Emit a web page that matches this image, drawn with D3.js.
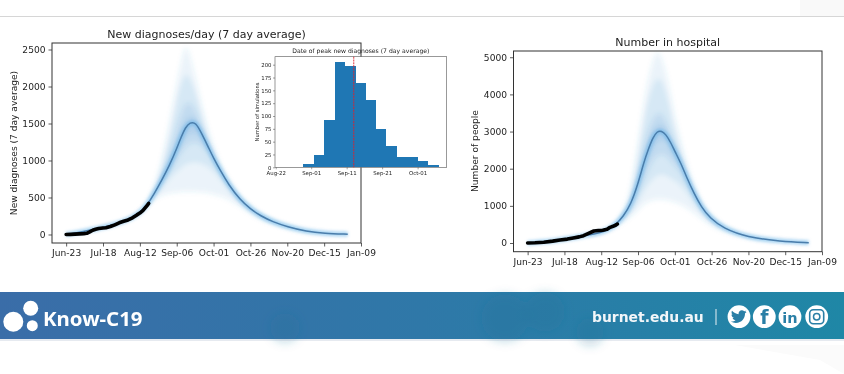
<!DOCTYPE html>
<html>
<head>
<meta charset="utf-8">
<script src="https://cdn.jsdelivr.net/npm/d3@7"></script>
<style>
  html, body { margin: 0; padding: 0; background: #fff; overflow: hidden; }
  svg { display: block; filter: blur(0.35px); }
  text { font-family: "DejaVu Sans", sans-serif; fill: #222; }
</style>
</head>
<body>
<div id="chart"></div>
<script>
// tick labels, days counted from Jun-23
const tickDays = [0, 25, 50, 75, 100, 125, 150, 175, 200];
const tickLabels = ['Jun-23', 'Jul-18', 'Aug-12', 'Sep-06', 'Oct-01', 'Oct-26', 'Nov-20', 'Dec-15', 'Jan-09'];

// new diagnoses chart
const diagObsDays = [0, 3, 6, 9, 12, 14, 16, 18, 20, 22, 25, 27, 30, 33, 36, 39, 42, 45, 48, 50, 52, 54, 55, 56];
const diagObs = [0, 2, 5, 8, 12, 16, 35, 57, 70, 80, 88, 92, 108, 130, 158, 178, 196, 225, 265, 290, 322, 370, 395, 420];
const diagDays = [0, 20, 40, 50, 55, 60, 65, 70, 75, 78, 81, 84, 88, 92, 96, 100, 105, 110, 118, 125, 132, 140, 150, 163, 175, 191];
const diagMedian = [0, 70, 170, 290, 400, 560, 740, 930, 1160, 1320, 1450, 1515, 1515, 1360, 1200, 1030, 850, 680, 466, 345, 250, 173, 105, 42, 16, 3];
const diagU1 = [0, 70, 170, 295, 430, 650, 1000, 1500, 2050, 2320, 2600, 2420, 2100, 1750, 1420, 1180, 930, 730, 520, 380, 280, 195, 120, 50, 22, 5];
const diagU2 = [0, 70, 170, 293, 410, 620, 900, 1300, 1800, 2050, 2180, 2120, 1900, 1620, 1340, 1120, 900, 710, 500, 368, 268, 185, 115, 47, 20, 4];
const diagU3 = [0, 70, 170, 292, 405, 590, 810, 1100, 1450, 1650, 1780, 1790, 1680, 1450, 1250, 1070, 880, 698, 488, 358, 260, 180, 110, 45, 18, 4];
const diagU4 = [0, 70, 170, 291, 402, 572, 770, 985, 1235, 1415, 1550, 1600, 1580, 1410, 1230, 1050, 865, 690, 478, 352, 256, 177, 108, 44, 17, 3];
const diagL4 = [0, 70, 170, 289, 398, 548, 710, 880, 1080, 1220, 1320, 1370, 1390, 1280, 1160, 1005, 830, 668, 452, 335, 242, 167, 101, 40, 15, 3];
const diagL3 = [0, 70, 170, 288, 395, 530, 680, 830, 1000, 1100, 1180, 1230, 1250, 1200, 1100, 970, 810, 650, 440, 325, 235, 162, 98, 38, 14, 3];
const diagL2 = [0, 70, 170, 287, 390, 510, 620, 750, 850, 900, 950, 970, 980, 960, 920, 850, 740, 600, 415, 310, 225, 152, 92, 34, 13, 2];
const diagL1 = [0, 70, 170, 286, 385, 480, 530, 560, 570, 580, 580, 580, 580, 575, 565, 545, 520, 480, 380, 285, 200, 140, 85, 30, 12, 2];
const diagTicks = [0, 500, 1000, 1500, 2000, 2500];

// number in hospital chart
const hospObsDays = [0, 5, 11, 17, 22, 27, 31, 35, 38, 41, 45, 48, 51, 54, 56, 58, 60, 61];
const hospObs = [0, 5, 20, 50, 80, 105, 135, 165, 197, 250, 323, 335, 345, 368, 422, 450, 485, 510];
const hospDays = [0, 20, 40, 50, 55, 60, 65, 70, 75, 79, 82, 85, 88, 91, 94, 97, 100, 104, 108, 113, 118, 124, 133, 149, 172, 191];
const hospMedian = [0, 60, 210, 280, 370, 500, 720, 1030, 1590, 2180, 2520, 2830, 3010, 3020, 2920, 2720, 2470, 2160, 1770, 1340, 970, 665, 395, 155, 45, 8];
const hospU1 = [0, 60, 210, 285, 380, 540, 830, 1350, 2700, 3800, 4450, 4900, 5200, 5000, 4600, 4050, 3400, 2750, 2130, 1560, 1100, 760, 440, 175, 50, 10];
const hospU2 = [0, 60, 210, 284, 375, 525, 790, 1220, 2300, 3300, 3850, 4250, 4450, 4400, 4050, 3550, 3000, 2520, 1990, 1480, 1050, 730, 425, 168, 48, 9];
const hospU3 = [0, 60, 210, 283, 372, 515, 755, 1080, 1850, 2650, 3050, 3350, 3500, 3500, 3300, 2950, 2650, 2320, 1880, 1420, 1010, 705, 412, 162, 47, 9];
const hospU4 = [0, 60, 210, 282, 371, 508, 735, 1020, 1700, 2420, 2720, 3020, 3180, 3190, 3100, 2800, 2550, 2250, 1830, 1380, 985, 685, 403, 158, 46, 8];
const hospL4 = [0, 60, 210, 278, 368, 495, 700, 930, 1480, 2000, 2280, 2550, 2750, 2780, 2720, 2500, 2320, 2090, 1700, 1290, 930, 645, 385, 150, 43, 7];
const hospL3 = [0, 60, 210, 277, 365, 480, 660, 870, 1300, 1700, 1950, 2200, 2350, 2400, 2350, 2200, 2050, 1900, 1580, 1220, 880, 615, 370, 145, 42, 7];
const hospL2 = [0, 60, 210, 276, 360, 460, 620, 800, 1120, 1400, 1580, 1720, 1820, 1850, 1830, 1750, 1680, 1560, 1350, 1080, 800, 570, 345, 135, 40, 6];
const hospL1 = [0, 60, 210, 275, 350, 440, 570, 700, 900, 1050, 1120, 1160, 1180, 1180, 1170, 1140, 1100, 1040, 950, 820, 650, 480, 300, 120, 35, 5];
const hospTicks = [0, 1000, 2000, 3000, 4000, 5000];

// inset histogram, days counted from Aug-22
const peakEdges = [7.8, 10.8, 13.7, 16.65, 19.6, 22.5, 25.4, 28.3, 31.2, 34.15, 37.05, 40, 42.9, 45.9];
const peakCounts = [6, 24, 92, 206, 198, 165, 132, 74, 41, 20, 20, 12, 4];
const peakLine = 22;
const insetTickDays = [0, 10, 20, 30, 40];
const insetTickLabels = ['Aug-22', 'Sep-01', 'Sep-11', 'Sep-21', 'Oct-01'];
const insetCountTicks = [0, 25, 50, 75, 100, 125, 150, 175, 200];

const svg = d3.select('#chart').append('svg').attr('width', 844).attr('height', 374);
const defs = svg.append('defs');

defs.append('filter').attr('id', 'soft').attr('x', '-10%').attr('y', '-10%').attr('width', '120%').attr('height', '120%')
  .append('feGaussianBlur').attr('stdDeviation', 2.4);
defs.append('filter').attr('id', 'glow').attr('filterUnits', 'userSpaceOnUse').attr('x', 0).attr('y', 0).attr('width', 844).attr('height', 374)
  .append('feGaussianBlur').attr('stdDeviation', 1.6);
defs.append('filter').attr('id', 'virus').attr('x', '-30%').attr('y', '-30%').attr('width', '160%').attr('height', '160%')
  .append('feGaussianBlur').attr('stdDeviation', 5);

const bannerGrad = defs.append('linearGradient').attr('id', 'bannerGrad');
bannerGrad.append('stop').attr('offset', '0%').attr('stop-color', '#3a6da8');
bannerGrad.append('stop').attr('offset', '50%').attr('stop-color', '#2f78a8');
bannerGrad.append('stop').attr('offset', '100%').attr('stop-color', '#1f87a6');

// page furniture
svg.append('rect').attr('x', 800).attr('y', 0).attr('width', 44).attr('height', 16).attr('fill', '#f9f9f9');
svg.append('line').attr('x1', 0).attr('x2', 844).attr('y1', 16.5).attr('y2', 16.5).attr('stroke', '#d6d6d6').attr('stroke-width', 1);

function drawChart(opts) {
  const x = d3.scaleLinear().domain([-9.6, 200]).range([opts.left, opts.right]);
  const y = d3.scaleLinear().domain(opts.yDomain).range([opts.bottom, opts.top]);
  const g = svg.append('g');

  const area = function (upper, lower) {
    return d3.area().curve(d3.curveBasis)
      .x(function (d, i) { return x(opts.days[i]); })
      .y0(function (d, i) { return y(lower[i]); })
      .y1(function (d, i) { return y(upper[i]); })(opts.days);
  };

  const bands = g.append('g').attr('filter', 'url(#soft)');
  opts.bands.forEach(function (b) {
    bands.append('path').attr('d', area(b[0], b[1])).attr('fill', '#2f86cc').attr('fill-opacity', b[2]);
  });

  const line = d3.line().curve(d3.curveBasis)
    .x(function (d, i) { return x(opts.days[i]); })
    .y(function (d) { return y(d); });
  g.append('path').attr('d', line(opts.median)).attr('fill', 'none').attr('stroke', '#5aaee8')
    .attr('stroke-width', 5).attr('stroke-opacity', 0.5).attr('filter', 'url(#glow)');
  g.append('path').attr('d', line(opts.median)).attr('fill', 'none').attr('stroke', '#4a7dab').attr('stroke-width', 1.5);

  const obsLine = d3.line()
    .x(function (d, i) { return x(opts.obsDays[i]); })
    .y(function (d) { return y(d); });
  g.append('path').attr('d', obsLine(opts.obs)).attr('fill', 'none').attr('stroke', '#000')
    .attr('stroke-width', 3.6).attr('stroke-linecap', 'round').attr('stroke-linejoin', 'round');

  const xAxis = d3.axisBottom(x).tickValues(tickDays).tickFormat(function (d, i) { return tickLabels[i]; }).tickSize(3.5).tickPadding(3);
  const yAxis = d3.axisLeft(y).tickValues(opts.yTicks).tickSize(3.5).tickPadding(3).tickFormat(d3.format('d'));
  const ax = g.append('g').attr('transform', 'translate(0,' + opts.bottom + ')').call(xAxis);
  const ay = g.append('g').attr('transform', 'translate(' + opts.left + ',0)').call(yAxis);
  [ax, ay].forEach(function (a) {
    a.select('.domain').remove();
    a.selectAll('line').attr('stroke', '#333').attr('stroke-width', 0.8);
    a.selectAll('text').attr('font-size', 9.1).attr('font-family', '"DejaVu Sans", sans-serif').attr('fill', '#333');
  });

  g.append('rect').attr('x', opts.left).attr('y', opts.top).attr('width', opts.right - opts.left).attr('height', opts.bottom - opts.top)
    .attr('fill', 'none').attr('stroke', '#333').attr('stroke-width', 1);

  g.append('text').attr('x', (opts.left + opts.right) / 2).attr('y', opts.top - 5).attr('text-anchor', 'middle')
    .attr('font-size', 11).text(opts.title);
  g.append('text').attr('transform', 'translate(' + opts.labelX + ',' + opts.labelY + ') rotate(-90)')
    .attr('text-anchor', 'middle').attr('font-size', 9.1).attr('fill', '#333').text(opts.ylabel);
}

drawChart({
  left: 52, right: 361, top: 43, bottom: 243,
  yDomain: [-115, 2588], yTicks: diagTicks,
  days: diagDays, median: diagMedian, obsDays: diagObsDays, obs: diagObs,
  bands: [[diagU1, diagL1, 0.1], [diagU2, diagL2, 0.1], [diagU3, diagL3, 0.12], [diagU4, diagL4, 0.13]],
  title: 'New diagnoses/day (7 day average)', ylabel: 'New diagnoses (7 day average)', labelX: 17, labelY: 143
});

drawChart({
  left: 513.5, right: 822, top: 51, bottom: 251.7,
  yDomain: [-234, 5168], yTicks: hospTicks,
  days: hospDays, median: hospMedian, obsDays: hospObsDays, obs: hospObs,
  bands: [[hospU1, hospL1, 0.1], [hospU2, hospL2, 0.1], [hospU3, hospL3, 0.12], [hospU4, hospL4, 0.13]],
  title: 'Number in hospital', ylabel: 'Number of people', labelX: 478, labelY: 151
});

// inset sits on top of the first chart and hides its right spine
const inL = 275, inR = 446.7, inT = 56.7, inB = 167.3;
const inX = d3.scaleLinear().domain([-0.2, 48.2]).range([inL, inR]);
const inY = d3.scaleLinear().domain([0, 215.6]).range([inB, inT]);
const inset = svg.append('g');
inset.append('rect').attr('x', inL).attr('y', inT).attr('width', inR - inL).attr('height', inB - inT).attr('fill', '#fff');
inset.selectAll('rect.bar').data(peakCounts).join('rect').attr('class', 'bar')
  .attr('x', function (d, i) { return inX(peakEdges[i]); })
  .attr('width', function (d, i) { return inX(peakEdges[i + 1]) - inX(peakEdges[i]); })
  .attr('y', function (d) { return inY(d); })
  .attr('height', function (d) { return inB - inY(d); })
  .attr('fill', '#1f77b4').attr('shape-rendering', 'crispEdges');
inset.append('line').attr('x1', inX(peakLine)).attr('x2', inX(peakLine)).attr('y1', inT).attr('y2', inB)
  .attr('stroke', '#e0202a').attr('stroke-width', 0.9).attr('stroke-dasharray', '2,0.8');
inset.append('rect').attr('x', inL).attr('y', inT).attr('width', inR - inL).attr('height', inB - inT)
  .attr('fill', 'none').attr('stroke', '#555').attr('stroke-width', 0.6);
const inAx = inset.append('g').attr('transform', 'translate(0,' + inB + ')')
  .call(d3.axisBottom(inX).tickValues(insetTickDays).tickFormat(function (d, i) { return insetTickLabels[i]; }).tickSize(2).tickPadding(1.5));
const inAy = inset.append('g').attr('transform', 'translate(' + inL + ',0)')
  .call(d3.axisLeft(inY).tickValues(insetCountTicks).tickSize(2).tickPadding(1.5));
[inAx, inAy].forEach(function (a) {
  a.select('.domain').remove();
  a.selectAll('line').attr('stroke', '#444').attr('stroke-width', 0.5);
  a.selectAll('text').attr('font-size', 5.4).attr('font-family', '"DejaVu Sans", sans-serif').attr('fill', '#444');
});
inset.append('text').attr('x', (inL + inR) / 2).attr('y', inT - 4).attr('text-anchor', 'middle')
  .attr('font-size', 6.1).attr('fill', '#333').text('Date of peak new diagnoses (7 day average)');
inset.append('text').attr('transform', 'translate(258.5,' + (inT + inB) / 2 + ') rotate(-90)')
  .attr('text-anchor', 'middle').attr('font-size', 5.2).attr('fill', '#444').text('Number of simulations');

// banner
svg.append('polygon').attr('points', '735,345 844,345 844,374 820,360').attr('fill', '#fbfbfb');
svg.append('rect').attr('x', 0).attr('y', 339).attr('width', 844).attr('height', 2).attr('fill', '#e6eaf0');
svg.append('rect').attr('x', 0).attr('y', 292).attr('width', 844).attr('height', 47).attr('fill', 'url(#bannerGrad)');
const virus = svg.append('g').attr('filter', 'url(#virus)');
[[285, 328, 15], [505, 318, 24], [545, 312, 20], [590, 332, 14]].forEach(function (c) {
  virus.append('circle').attr('cx', c[0]).attr('cy', c[1]).attr('r', c[2]).attr('fill', '#1d6d98').attr('fill-opacity', 0.22);
});

[[13.3, 321.7, 10], [30.7, 308.3, 7.5], [32.3, 325.7, 5.5]].forEach(function (c) {
  svg.append('circle').attr('cx', c[0]).attr('cy', c[1]).attr('r', c[2]).attr('fill', '#fff');
});
svg.append('text').attr('x', 43).attr('y', 325.5).attr('font-weight', 700)
  .attr('font-size', 20.4).style('font-family', '"Noto Sans", sans-serif').style('fill', '#fff').text('Know-C19');
svg.append('text').attr('x', 592).attr('y', 321.7).attr('font-weight', 700).attr('font-size', 13.9).style('fill', '#f2f6f9').text('burnet.edu.au');
svg.append('line').attr('x1', 716).attr('x2', 716).attr('y1', 309).attr('y2', 325).attr('stroke', '#e8f0f4').attr('stroke-width', 1);

// social icons
const iconX = [739, 764.3, 790, 816.7];
iconX.forEach(function (cx) {
  svg.append('circle').attr('cx', cx).attr('cy', 316.7).attr('r', 11.4).attr('fill', '#fff');
});
svg.append('path').attr('transform', 'translate(730.6,308.6) scale(0.7)').attr('fill', '#2a7fa6')
  .attr('d', 'M23 4.5c-.8.4-1.7.6-2.6.7.9-.6 1.6-1.4 2-2.5-.9.5-1.9.9-2.9 1.1C18.6 2.9 17.4 2.3 16 2.3c-2.5 0-4.6 2.1-4.6 4.6 0 .4 0 .7.1 1C7.7 7.7 4.3 5.9 2 3.1c-.4.7-.6 1.5-.6 2.3 0 1.6.8 3 2 3.8-.8 0-1.5-.2-2.1-.6v.1c0 2.2 1.6 4.1 3.7 4.5-.4.1-.8.2-1.2.2-.3 0-.6 0-.9-.1.6 1.8 2.3 3.2 4.3 3.2-1.6 1.2-3.6 2-5.7 2-.4 0-.7 0-1.1-.1 2 1.3 4.5 2.1 7.1 2.1 8.5 0 13.1-7 13.1-13.1v-.6c.9-.6 1.7-1.5 2.3-2.4z');
svg.append('text').attr('x', iconX[1]).attr('y', 324).attr('text-anchor', 'middle').attr('font-weight', 700).attr('font-size', 19)
  .style('fill', '#2a7fa6').text('f');
svg.append('text').attr('x', iconX[2]).attr('y', 322.5).attr('text-anchor', 'middle').attr('font-weight', 700).attr('font-size', 14.5)
  .style('fill', '#2a7fa6').text('in');
svg.append('rect').attr('x', iconX[3] - 7).attr('y', 309.7).attr('width', 14).attr('height', 14).attr('rx', 3.5)
  .attr('fill', 'none').attr('stroke', '#2a7fa6').attr('stroke-width', 1.6);
svg.append('circle').attr('cx', iconX[3]).attr('cy', 316.7).attr('r', 3.2).attr('fill', 'none').attr('stroke', '#2a7fa6').attr('stroke-width', 1.5);
</script>
</body>
</html>
